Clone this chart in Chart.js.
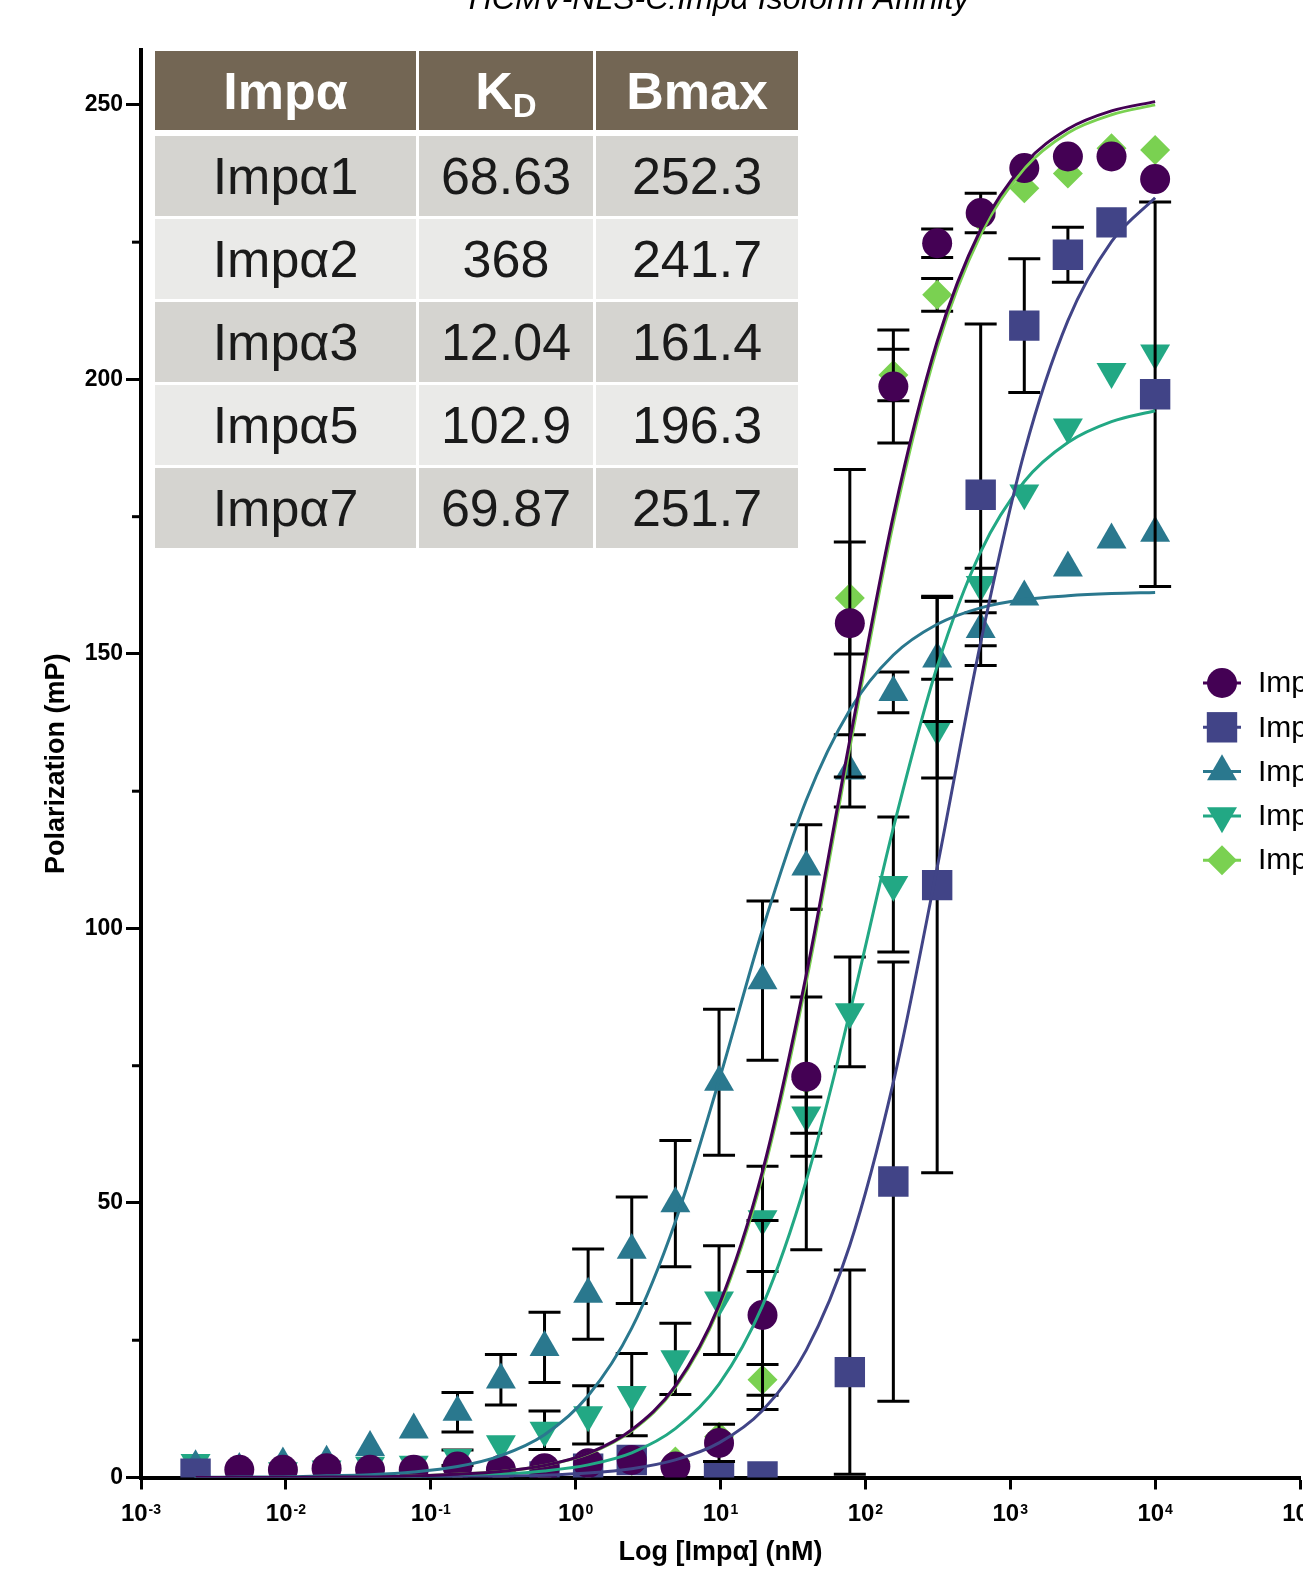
<!DOCTYPE html>
<html>
<head>
<meta charset="utf-8">
<script src="https://cdn.jsdelivr.net/npm/chart.js@4.4.1/dist/chart.umd.min.js"></script>
<style>
  html, body { margin: 0; padding: 0; background: #fff; overflow: hidden; }
  #wrap { position: relative; width: 1303px; height: 1591px; }
  #kdTable {
    position: absolute; left: 155px; top: 51px;
    display: grid;
    grid-template-columns: 261px 174px 202px;
    grid-template-rows: 82px 80px 80px 80px 80px 80px;
    column-gap: 3px; row-gap: 3px;
    font-family: "Liberation Sans", Arial, sans-serif;
    font-size: 52px;
  }
  #kdTable div { display: flex; align-items: center; justify-content: center; color: #1a1a1a; }
  #kdTable .head { background: #736654; color: #fff; font-weight: bold; height: 79px; align-self: start; }
  #kdTable .odd { background: #d5d4d0; }
  #kdTable .even { background: #eaeae8; }
  #kdTable .sub { font-size: 33px; position: relative; top: 15px; }
</style>
</head>
<body>
<div id="wrap">
  <canvas id="fpChart" width="1303" height="1591"></canvas>
  <div id="kdTable"></div>
</div>
<script>
// concentrations (nM), 2-fold dilution series
const conc = [0.00238, 0.00477, 0.00954, 0.0191, 0.0381, 0.0763, 0.153, 0.305, 0.61, 1.22, 2.44, 4.88,
  9.77, 19.5, 39.1, 78.1, 156, 313, 625, 1250, 2500, 5000, 10000];

const seriesNames = ["Impα1", "Impα2", "Impα3", "Impα5", "Impα7"];

// mean polarization (mP) and SD for each isoform
const impa1 = [null, 1.4, 1.4, 1.7, 1.4, 1.4, 2.0, 1.4, 1.7, 2.6, 3.2, 2.0, 6.3, 29.6, 73.0, 155.6, 198.7, 224.8, 230.3, 238.5, 240.6, 240.6, 236.5];
const impa1Sd = [0, 0, 0, 0, 0, 0, 0, 0, 0, 0, 0, 0, 3.4, 17.2, 14.5, 28.0, 10.3, 2.6, 3.6, 0, 0, 0, 0];

const impa2 = [0.7, null, null, null, null, null, null, null, 0.2, 1.6, 3.2, null, 0.2, 0.2, null, 19.2, 53.9, 107.9, 179.0, 209.8, 222.7, 228.6, 197.3];
const impa2Sd = [0, 0, 0, 0, 0, 0, 0, 0, 0, 0, 0, 0, 0, 0, 0, 18.6, 40.0, 52.4, 31.1, 12.2, 5.0, 0, 35.0];

const impa3 = [2.0, 1.5, 2.5, 2.8, 5.5, 8.7, 11.9, 17.8, 23.7, 33.4, 41.4, 49.9, 72.0, 90.5, 111.2, 128.7, 143.0, 149.1, 154.5, 160.4, 165.7, 170.8, 172.0];
const impa3Sd = [0, 0, 0, 0, 0, 0, 3.6, 4.6, 6.4, 8.2, 9.7, 11.5, 13.3, 14.5, 7.7, 6.6, 3.7, 11.4, 3.0, 0, 0, 0, 0];

const impa5 = [2.7, null, 1.2, 1.5, 2.2, 2.4, 3.6, 6.1, 8.6, 11.4, 15.1, 21.6, 32.3, 47.1, 66.0, 84.8, 108.0, 136.4, 162.6, 179.3, 191.3, 201.4, 204.8];
const impa5Sd = [0, 0, 0, 0, 0, 0, 1.4, 0, 3.5, 5.3, 7.5, 6.5, 9.9, 9.6, 3.3, 10.0, 12.3, 9.0, 3.0, 0, 0, 0, 0];

const impa7 = [null, 1.0, 1.2, 1.5, 1.2, 1.3, 1.8, 1.2, 1.5, 2.2, 3.0, 2.9, 7.4, 17.8, 72.5, 160.2, 200.8, 215.4, 229.6, 234.8, 237.5, 242.1, 241.8];
const impa7Sd = [0, 0, 0, 0, 0, 0, 0, 0, 0, 0, 0, 0, 0, 2.8, 31.0, 10.2, 4.7, 3.0, 0, 0, 0, 0, 0];

// fitted one-site binding curves at the same concentrations
const fit1 = [0.0, 0.0, 0.0, 0.1, 0.1, 0.3, 0.6, 1.1, 2.2, 4.4, 8.7, 16.7, 31.4, 55.8, 91.6, 134.3, 175.2, 206.9, 227.3, 239.2, 245.6, 248.9, 250.6];
const fit2 = [0.0, 0.0, 0.0, 0.0, 0.0, 0.1, 0.1, 0.2, 0.4, 0.8, 1.6, 3.2, 6.3, 12.2, 23.2, 42.3, 72.0, 111.1, 152.1, 186.7, 210.7, 225.1, 233.1];
const fit3 = [0.0, 0.1, 0.1, 0.3, 0.5, 1.0, 2.0, 4.0, 7.8, 14.9, 27.2, 46.6, 72.3, 99.8, 123.4, 139.8, 149.8, 155.4, 158.4, 159.9, 160.6, 161.0, 161.2];
const fit5 = [0.0, 0.0, 0.0, 0.0, 0.1, 0.1, 0.3, 0.6, 1.2, 2.3, 4.5, 8.9, 17.0, 31.3, 54.1, 84.7, 118.3, 147.7, 168.6, 181.4, 188.5, 192.3, 194.3];
const fit7 = [0.0, 0.0, 0.0, 0.1, 0.1, 0.3, 0.6, 1.1, 2.2, 4.3, 8.5, 16.4, 30.9, 54.9, 90.3, 132.9, 173.8, 205.8, 226.4, 238.4, 244.9, 248.2, 250.0];

// axis ticks
const xTickValues = [1e-3, 1e-2, 1e-1, 1, 10, 100, 1000, 10000, 100000];
const xTickExponents = ["-3", "-2", "-1", "0", "1", "2", "3", "4", "5"];
const yTickValues = [0, 50, 100, 150, 200, 250];
const yMinorTicks = [25, 75, 125, 175, 225];

// inset table
const tableHeader = ["Impα", "K_D", "Bmax"];
const tableNames = ["Impα1", "Impα2", "Impα3", "Impα5", "Impα7"];
const tableKd = ["68.63", "368", "12.04", "102.9", "69.87"];
const tableBmax = ["252.3", "241.7", "161.4", "196.3", "251.7"];

const chartTitle = "HCMV-NLS-C:Impα Isoform Affinity";
const FONT = '"Liberation Sans", Arial, sans-serif';

const colors = ["#440154", "#414487", "#2A788E", "#22A884", "#7AD151"];
const markers = [
  { pointStyle: "circle", radius: 15, rotation: 0 },
  { pointStyle: "rect", radius: 21.5, rotation: 0 },
  { pointStyle: "triangle", radius: 17.3, rotation: 0 },
  { pointStyle: "triangle", radius: 17.3, rotation: 180 },
  { pointStyle: "rectRot", radius: 15, rotation: 0 },
];

const means = [impa1, impa2, impa3, impa5, impa7];
const sds = [impa1Sd, impa2Sd, impa3Sd, impa5Sd, impa7Sd];
const fits = [fit1, fit2, fit3, fit5, fit7];

function toPoints(vals) {
  return conc.map((c, i) => ({ x: c, y: vals[i] }));
}

// build the table
let table = document.getElementById("kdTable");
tableHeader.forEach((h) => {
  let d = document.createElement("div");
  d.className = "head";
  if (h === "K_D") {
    d.innerHTML = 'K<span class="sub">D</span>';
  } else {
    d.textContent = h;
  }
  table.appendChild(d);
});
tableNames.forEach((n, r) => {
  [n, tableKd[r], tableBmax[r]].forEach((t) => {
    let d = document.createElement("div");
    d.className = r % 2 === 0 ? "odd" : "even";
    d.textContent = t;
    table.appendChild(d);
  });
});

// error bars are drawn just before each dataset's own symbols
const errorBars = {
  id: "errorBars",
  beforeDatasetDraw(chart, args) {
    const ds = chart.data.datasets[args.index];
    if (!ds.sd) return;
    const ctx = chart.ctx;
    const yScale = chart.scales.y;
    ctx.save();
    ctx.strokeStyle = "#000";
    ctx.lineWidth = 3;
    args.meta.data.forEach((pt, i) => {
      const v = ds.data[i].y;
      const sd = ds.sd[i];
      if (v == null || !sd) return;
      const top = yScale.getPixelForValue(v + sd);
      const bot = yScale.getPixelForValue(Math.max(v - sd, 0));
      ctx.beginPath();
      ctx.moveTo(pt.x, top);
      ctx.lineTo(pt.x, bot);
      ctx.moveTo(pt.x - 16, top);
      ctx.lineTo(pt.x + 16, top);
      ctx.moveTo(pt.x - 16, bot);
      ctx.lineTo(pt.x + 16, bot);
      ctx.stroke();
    });
    ctx.restore();
  },
};

// title, superscript x labels, minor ticks and legend
const decorations = {
  id: "decorations",
  afterDraw(chart) {
    const ctx = chart.ctx;
    const area = chart.chartArea;
    const xScale = chart.scales.x;
    const yScale = chart.scales.y;
    ctx.save();
    ctx.fillStyle = "#000";

    ctx.font = "italic 32px " + FONT;
    ctx.textAlign = "center";
    ctx.textBaseline = "alphabetic";
    ctx.fillText(chartTitle, 719, 9);

    ctx.strokeStyle = "#000";
    ctx.lineWidth = 3;
    yMinorTicks.forEach((v) => {
      const py = yScale.getPixelForValue(v);
      ctx.beginPath();
      ctx.moveTo(area.left - 9, py);
      ctx.lineTo(area.left, py);
      ctx.stroke();
    });

    ctx.textAlign = "left";
    xTickValues.forEach((v, i) => {
      const px = xScale.getPixelForValue(v);
      ctx.font = "bold 24px " + FONT;
      const bw = ctx.measureText("10").width;
      ctx.font = "bold 14px " + FONT;
      const ew = ctx.measureText(xTickExponents[i]).width;
      const start = px - (bw + ew + 1) / 2;
      ctx.font = "bold 24px " + FONT;
      ctx.fillText("10", start, area.bottom + 43.5);
      ctx.font = "bold 14px " + FONT;
      ctx.fillText(xTickExponents[i], start + bw + 1, area.bottom + 36);
    });

    // legend, clipped by the right edge like the original
    const legendTop = 683;
    const legendStep = 44.3;
    seriesNames.forEach((name, i) => {
      const ly = legendTop + i * legendStep;
      ctx.strokeStyle = colors[i];
      ctx.lineWidth = 3;
      ctx.beginPath();
      ctx.moveTo(1203, ly);
      ctx.lineTo(1241, ly);
      ctx.stroke();
      ctx.fillStyle = colors[i];
      Chart.helpers.drawPoint(ctx, {
        pointStyle: markers[i].pointStyle,
        radius: markers[i].radius,
        rotation: markers[i].rotation,
        borderWidth: 0,
      }, 1222, ly);
      ctx.fillStyle = "#000";
      ctx.font = "30px " + FONT;
      ctx.textBaseline = "middle";
      ctx.fillText(name, 1258, ly + 1);
      ctx.textBaseline = "alphabetic";
    });
    ctx.restore();
  },
};

Chart.defaults.font.family = FONT;
Chart.defaults.color = "#000";

let datasets = [];
// curves first so they sit on top of the symbols
fits.forEach((f, i) => {
  datasets.push({
    type: "line",
    label: seriesNames[i] + " fit",
    data: toPoints(f),
    borderColor: colors[i],
    borderWidth: 3,
    pointRadius: 0,
    fill: false,
    cubicInterpolationMode: "monotone",
  });
});
means.forEach((m, i) => {
  datasets.push({
    type: "scatter",
    label: seriesNames[i],
    data: toPoints(m),
    sd: sds[i],
    backgroundColor: colors[i],
    borderColor: colors[i],
    pointStyle: markers[i].pointStyle,
    pointRadius: markers[i].radius,
    pointRotation: markers[i].rotation,
    pointBorderWidth: 0,
    clip: 0,
  });
});

let ctx = document.getElementById("fpChart").getContext("2d");
new Chart(ctx, {
  type: "scatter",
  data: { datasets: datasets },
  options: {
    responsive: false,
    animation: false,
    events: [],
    layout: { autoPadding: false, padding: { top: 50, right: 3, left: 0, bottom: 0 } },
    plugins: {
      legend: { display: false },
      tooltip: { enabled: false },
      title: { display: false },
    },
    scales: {
      x: {
        type: "logarithmic",
        min: 1e-3,
        max: 1e5,
        afterBuildTicks: (s) => {
          s.ticks = xTickValues.map((v) => ({ value: v }));
        },
        afterFit: (s) => {
          s.height = 113.5;
        },
        ticks: { display: false },
        grid: {
          drawOnChartArea: false,
          drawTicks: true,
          tickLength: 12,
          tickColor: "#000",
          tickWidth: 3,
        },
        border: { display: true, color: "#000", width: 4 },
        title: {
          display: true,
          text: "Log [Impα] (nM)",
          font: { size: 27, weight: "bold" },
          color: "#000",
          padding: { top: 0, bottom: 22 },
        },
      },
      y: {
        type: "linear",
        min: 0,
        max: 260,
        afterBuildTicks: (s) => {
          s.ticks = yTickValues.map((v) => ({ value: v }));
        },
        afterFit: (s) => {
          s.width = 141;
        },
        ticks: {
          font: { size: 23, weight: "bold" },
          color: "#000",
          padding: 3,
        },
        grid: {
          drawOnChartArea: false,
          drawTicks: true,
          tickLength: 15,
          tickColor: "#000",
          tickWidth: 3,
        },
        border: { display: true, color: "#000", width: 4 },
        title: {
          display: true,
          text: "Polarization (mP)",
          font: { size: 27, weight: "bold" },
          color: "#000",
          padding: { top: 40, bottom: 0 },
        },
      },
    },
  },
  plugins: [errorBars, decorations],
});
</script>
</body>
</html>
